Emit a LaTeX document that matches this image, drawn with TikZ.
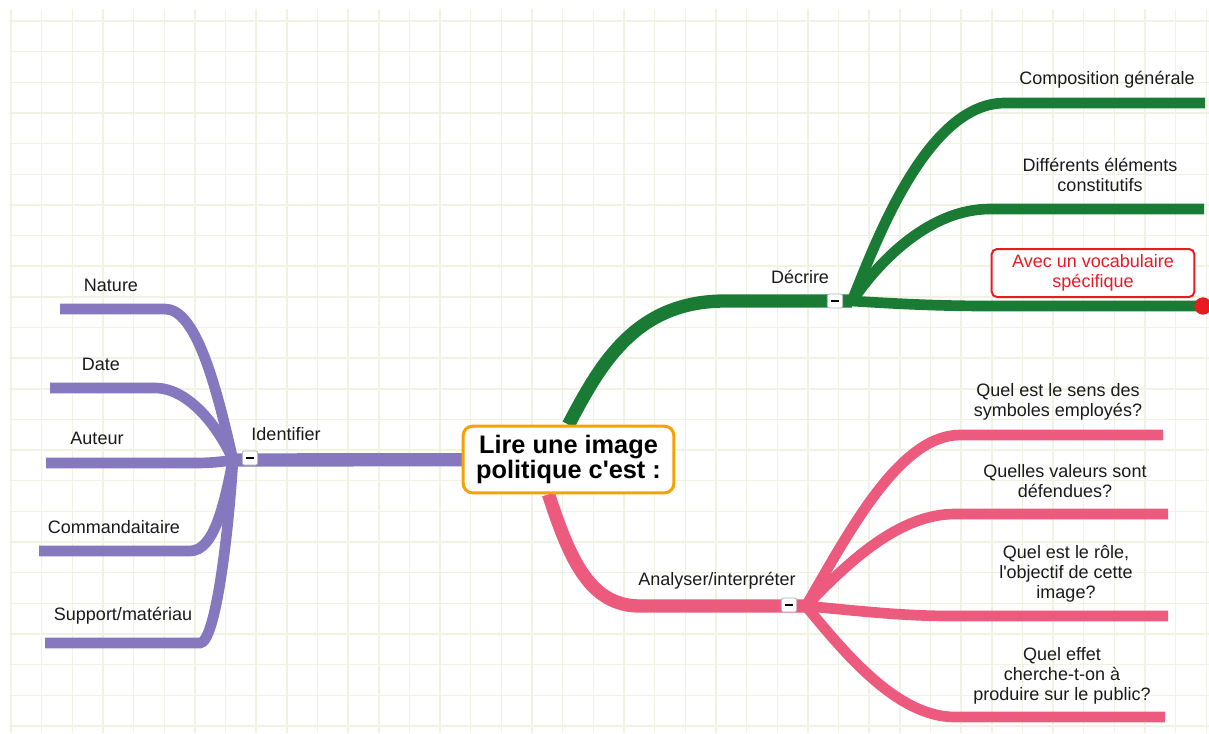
\documentclass[tikz,border=0pt]{standalone}
\usepackage{fontspec}
\setmainfont{Liberation Sans}[Ligatures=TeXOff]
\usetikzlibrary{backgrounds,calc}
\definecolor{gridgreen}{HTML}{EEF3E3}
\definecolor{mmpurple}{HTML}{8678BE}
\definecolor{mmgreen}{HTML}{1A7B34}
\definecolor{mmpink}{HTML}{EC5B7E}
\definecolor{mmorange}{HTML}{F8A100}
\definecolor{mmred}{HTML}{E81B23}
\definecolor{mmtext}{HTML}{1A1A1A}

\begin{document}
\begin{tikzpicture}[x=0.75pt,y=-0.75pt,
    gridline/.style={gridgreen,line width=1.1pt},
    mainbranch/.style={line width=10pt},
    leafbranch/.style={line width=8pt},
    lbl/.style={text=mmtext,font=\fontsize{13.5}{15}\selectfont,align=center,inner sep=0pt},
    minusbox/.style={draw=black!30,fill=white,rounded corners=1.5pt,line width=0.6pt,
        minimum width=11.5pt,minimum height=10.5pt,inner sep=0pt},
    centre/.style={draw=mmorange,fill=white,line width=2.25pt,rounded corners=7pt,
        minimum width=158pt,minimum height=50pt,align=center,
        font=\fontsize{19}{18.75}\selectfont\bfseries}]
    \useasboundingbox (0,0) rectangle (1209,733);

    \node[centre] (lire) at (568.5,459.5) {Lire une image\\politique c'est :};

    \coordinate (idj) at (233,460);
    \coordinate (decj) at (852,301);
    \coordinate (anaj) at (806,606);

    \coordinate (nat) at (60,309);
    \coordinate (dat) at (50,388);
    \coordinate (aut) at (46,463);
    \coordinate (com) at (39,551);
    \coordinate (sup) at (45,643);

    \coordinate (cmp) at (1205,103);
    \coordinate (dif) at (1204,209);
    \coordinate (voc) at (1203,306);

    \coordinate (sen) at (1163,435);
    \coordinate (val) at (1168,514);
    \coordinate (rol) at (1168,616);
    \coordinate (eff) at (1165,717);

    \begin{scope}[on background layer]
        \fill[white] (0,0) rectangle (1209,733);
        \foreach \i in {0,...,39}
            \draw[gridline] ({11+30.65*\i},9) -- ({11+30.65*\i},733);
        \foreach \i in {0,...,23}
            \draw[gridline] (9,{21+30.65*\i}) -- (1209,{21+30.65*\i});

        % Identifier
        \draw[mainbranch,mmpurple] (lire.center) -- (idj);
        \draw[leafbranch,mmpurple] (idj) .. controls (215,380) and (195,309) .. (165,309) -- (nat);
        \draw[leafbranch,mmpurple] (idj) .. controls (220,430) and (190,388) .. (155,388) -- (dat);
        \draw[leafbranch,mmpurple] (idj) .. controls (220,462) and (210,463) .. (195,463) -- (aut);
        \draw[leafbranch,mmpurple] (idj) .. controls (225,500) and (215,551) .. (190,551) -- (com);
        \draw[leafbranch,mmpurple] (idj) .. controls (228,540) and (215,643) .. (200,643) -- (sup);

        % Decrire
        \draw[mainbranch,mmgreen] (lire.north) .. controls (600,365) and (635,301) .. (725,301) -- (decj);
        \draw[leafbranch,mmgreen] (decj) .. controls (880,230) and (930,103) .. (1005,103) -- (cmp);
        \draw[leafbranch,mmgreen] (decj) .. controls (880,260) and (930,209) .. (990,209) -- (dif);
        \draw[leafbranch,mmgreen] (decj) .. controls (900,304) and (940,306) .. (990,306) -- (voc);

        % Analyser
        \draw[mainbranch,mmpink] ($(lire.south)+(-20,0)$) .. controls (570,560) and (590,606) .. (640,606) -- (anaj);
        \draw[leafbranch,mmpink] (anaj) .. controls (850,530) and (900,435) .. (960,435) -- (sen);
        \draw[leafbranch,mmpink] (anaj) .. controls (850,560) and (900,514) .. (955,514) -- (val);
        \draw[leafbranch,mmpink] (anaj) .. controls (850,610) and (900,616) .. (950,616) -- (rol);
        \draw[leafbranch,mmpink] (anaj) .. controls (850,660) and (900,717) .. (955,717) -- (eff);
    \end{scope}

    \node[minusbox] (idminus) at (250,458) {\rule{5.5pt}{1.5pt}};
    \node[minusbox] (decminus) at (835,301) {\rule{5.5pt}{1.5pt}};
    \node[minusbox] (anaminus) at (789,605) {\rule{5.5pt}{1.5pt}};

    \node[circle,fill=mmred,inner sep=0pt,minimum size=13pt] (vocdot) at (voc) {};

    \node[lbl] (identifier) at (286,434) {Identifier};
    \node[lbl] (nature) at (111,285) {Nature};
    \node[lbl] (date) at (101,364) {Date};
    \node[lbl] (auteur) at (97,438) {Auteur};
    \node[lbl] (commandit) at (114,527) {Commandaitaire};
    \node[lbl] (support) at (123,616) {Support/matériau};

    \node[lbl] (decrire) at (800,277) {Décrire};
    \node[lbl] (compo) at (1107,80) {Composition générale};
    \node[lbl] (elements) at (1100,175) {Différents éléments\\constitutifs};
    \node[lbl,text=mmred,draw=mmred,fill=white,line width=1.5pt,rounded corners=4pt,
        minimum width=152pt,minimum height=36pt] (vocab) at (1093,273)
        {Avec un vocabulaire\\spécifique};

    \node[lbl] (analyser) at (717,581) {Analyser/interpréter};
    \node[lbl] (sens) at (1058,402) {Quel est le sens des\\symboles employés?};
    \node[lbl] (valeurs) at (1065,481) {Quelles valeurs sont\\défendues?};
    \node[lbl] (role) at (1066,574) {Quel est le rôle,\\l'objectif de cette\\image?};
    \node[lbl] (effet) at (1062,676) {Quel effet\\cherche-t-on à\\produire sur le public?};
\end{tikzpicture}
\end{document}
